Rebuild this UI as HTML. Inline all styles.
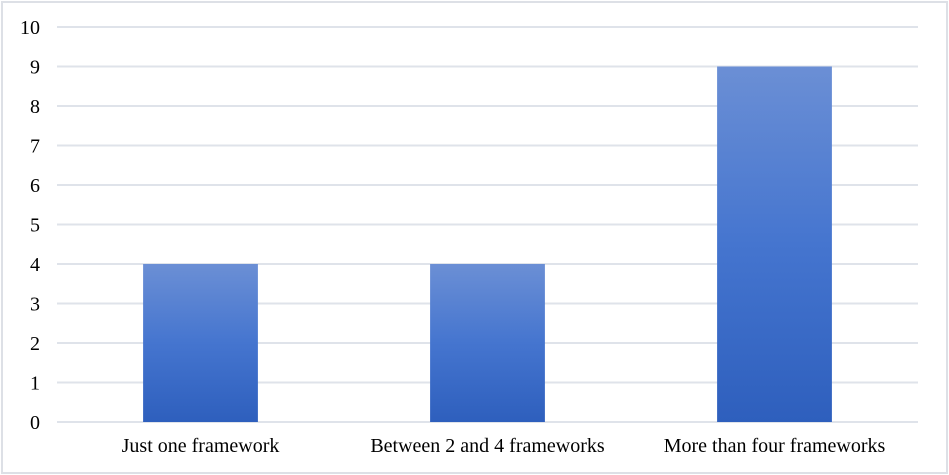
<!DOCTYPE html>
<html><head><meta charset="utf-8"><style>
html,body{margin:0;padding:0;background:#fff;}
svg{display:block;font-family:"Liberation Serif",serif;}
</style></head><body>
<svg id="chart" width="949" height="475" viewBox="0 0 949 475">
<defs>
<linearGradient id="bg" x1="0" y1="0" x2="0" y2="1">
<stop offset="0" stop-color="#6b8fd5"/>
<stop offset="0.5" stop-color="#4575cf"/>
<stop offset="1" stop-color="#2e5fbd"/>
</linearGradient>
</defs>
<rect x="2" y="2" width="945" height="471" fill="#fff" stroke="#dde0e6" stroke-width="2"/>
<g id="grid"></g><g id="bars"></g><g id="labels"></g>
</svg>
<script>
const categories = ["Just one framework","Between 2 and 4 frameworks","More than four frameworks"];
const values = [4,4,9];
const yTicks = [0,1,2,3,4,5,6,7,8,9,10];
const NS="http://www.w3.org/2000/svg";
const x0=57,x1=918,y0=422,yTop=27,yMax=10;
const y=v=>y0-(y0-yTop)*v/yMax;
const band=(x1-x0)/categories.length;
const bw=band*0.4;
const g=document.getElementById('grid'),b=document.getElementById('bars'),l=document.getElementById('labels');
function mk(tag,attrs,parent){const e=document.createElementNS(NS,tag);for(const k in attrs)e.setAttribute(k,attrs[k]);parent.appendChild(e);return e;}
yTicks.forEach(t=>{
  const ln=mk('line',{x1:x0,x2:x1,y1:y(t),y2:y(t),stroke:'#dfe3ea','stroke-width':2},g);
  
  
  const tx=mk('text',{x:40,y:y(t)+7,'text-anchor':'end','font-size':20,fill:'#000'},l);
  tx.textContent=t;
  
  
});
categories.forEach((c,i)=>{
  const cx=x0+band*(i+0.5);
  const r=mk('rect',{x:cx-bw/2,y:y(values[i]),width:bw,height:y0-y(values[i]),fill:'url(#bg)'},b);
  
  
  const tx=mk('text',{x:cx,y:452,'text-anchor':'middle','font-size':20,fill:'#000'},l);
  tx.textContent=c;
  
  
});
</script>
</body></html>
